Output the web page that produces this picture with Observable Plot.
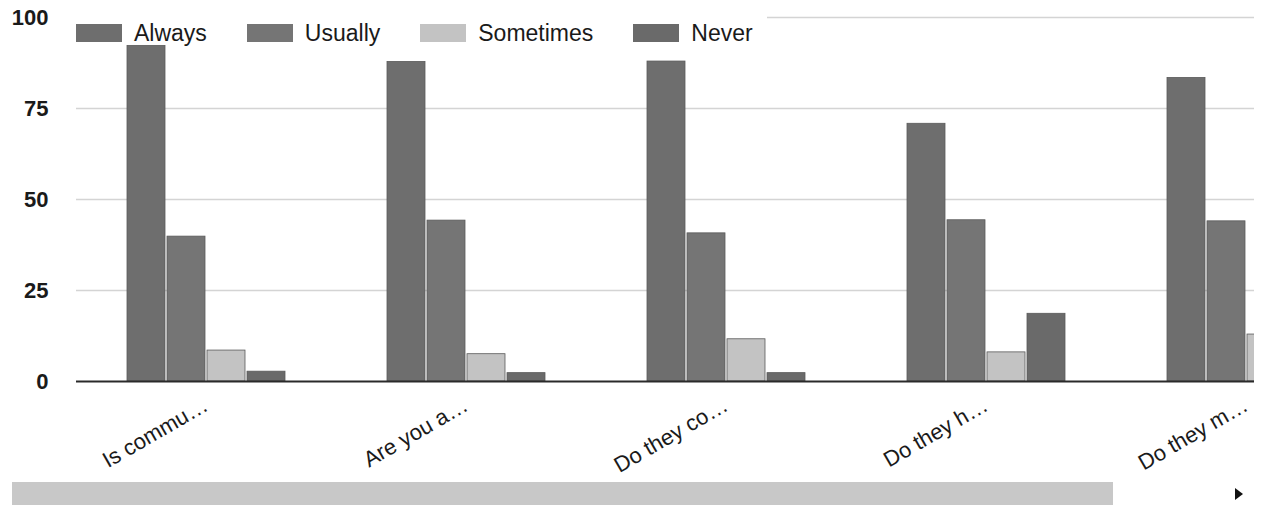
<!DOCTYPE html>
<html>
<head>
<meta charset="utf-8">
<script src="https://cdn.jsdelivr.net/npm/d3@7"></script>
<script src="https://cdn.jsdelivr.net/npm/@observablehq/plot@0.6"></script>
<style>
  html, body { margin: 0; padding: 0; background: #fff; }
  body { width: 1262px; height: 510px; overflow: hidden; font-family: "Liberation Sans", Arial, sans-serif; }
  #wrap { position: relative; width: 1262px; height: 510px; }
  .layer { position: absolute; left: 0; top: 0; }
  .layer svg { overflow: hidden !important; display: block; }
  #back svg g[aria-label="y-axis tick label"] text { font-weight: bold; }
  #legend { position: absolute; left: 62px; top: 14px; height: 38px; padding: 0 14px; background: #fff;
            display: flex; align-items: center; gap: 40px; font-size: 23px; color: #1a1a1a; }
  .item { display: flex; align-items: center; gap: 12px; }
  .sw { width: 46px; height: 18px; }
  #scroll { position: absolute; left: 12px; top: 482px; width: 1101px; height: 23px; background: #c8c8c8; }
  #arrow { position: absolute; left: 1235px; top: 488px; width: 0; height: 0;
           border-left: 8px solid #111; border-top: 6px solid transparent; border-bottom: 6px solid transparent; }
</style>
</head>
<body>
<div id="wrap">
  <div id="back" class="layer"></div>
  <div id="legend"></div>
  <div id="bars" class="layer"></div>
  <div id="base" class="layer"></div>
  <div id="scroll"></div>
  <div id="arrow"></div>
</div>
<script>
const questions = ["Is commu…", "Are you a…", "Do they co…", "Do they h…", "Do they m…"];
const series = ["Always", "Usually", "Sometimes", "Never"];
const always    = [92.2, 87.8, 87.9, 70.8, 83.4];
const usually   = [39.8, 44.2, 40.7, 44.3, 44.0];
const sometimes = [8.5, 7.5, 11.6, 8.0, 12.9];
const never     = [2.7, 2.3, 2.3, 18.6, null];
const colors = ["#6e6e6e", "#757575", "#c3c3c3", "#6a6a6a"];
const yTicks = [0, 25, 50, 75, 100];

const seriesValues = [always, usually, sometimes, never];
const data = questions.flatMap((q, i) =>
  series.map((s, j) => ({question: q, series: s, value: seriesValues[j][i]}))
).filter(d => d.value != null);

const W = 1254, H = 482;
const common = {
  width: W, height: H, marginLeft: 76, marginTop: 17, marginBottom: 101,
  style: {fontFamily: "Liberation Sans, Arial, sans-serif", fontSize: "22px", color: "#1a1a1a", background: "transparent"}
};

// back layer: gridlines + y axis
const back = Plot.plot({
  ...common,
  marginRight: 0,
  style: {...common.style, background: "#fff"},
  y: {domain: [0, 100], label: null},
  marks: [
    Plot.gridY(yTicks.filter(t => t > 0), {stroke: "#d4d4d4", strokeOpacity: 1, strokeWidth: 1.5}),
    Plot.axisY(yTicks, {tickSize: 0, tickPadding: 28, label: null})
  ]
});

// bars layer: faceted grouped bars
const bars = Plot.plot({
  ...common,
  marginRight: -120,
  fx: {domain: questions, paddingInner: 0.374, paddingOuter: 0.179, label: null,
       tickRotate: -30, tickSize: 0, tickPadding: 22, axis: "bottom"},
  x: {domain: series, paddingInner: 0.05, paddingOuter: 0.05, axis: null},
  y: {domain: [0, 100], axis: null},
  color: {domain: series, range: colors},
  marks: [
    Plot.barY(data, {fx: "question", x: "series", y: "value", fill: "series", stroke: "#5a5a5a", strokeWidth: 0.8})
  ]
});

// top layer: baseline
const base = Plot.plot({
  ...common,
  marginRight: 0,
  y: {domain: [0, 100], axis: null},
  marks: [Plot.ruleY([0], {stroke: "#2a2a2a", strokeWidth: 2})]
});

document.getElementById("back").appendChild(back);
document.getElementById("bars").appendChild(bars);
document.getElementById("base").appendChild(base);

const legend = document.getElementById("legend");
series.forEach((s, j) => {
  const item = document.createElement("div");
  item.className = "item";
  const sw = document.createElement("div");
  sw.className = "sw";
  sw.style.background = colors[j];
  const t = document.createElement("span");
  t.textContent = s;
  item.appendChild(sw);
  item.appendChild(t);
  legend.appendChild(item);
});
</script>
</body>
</html>
